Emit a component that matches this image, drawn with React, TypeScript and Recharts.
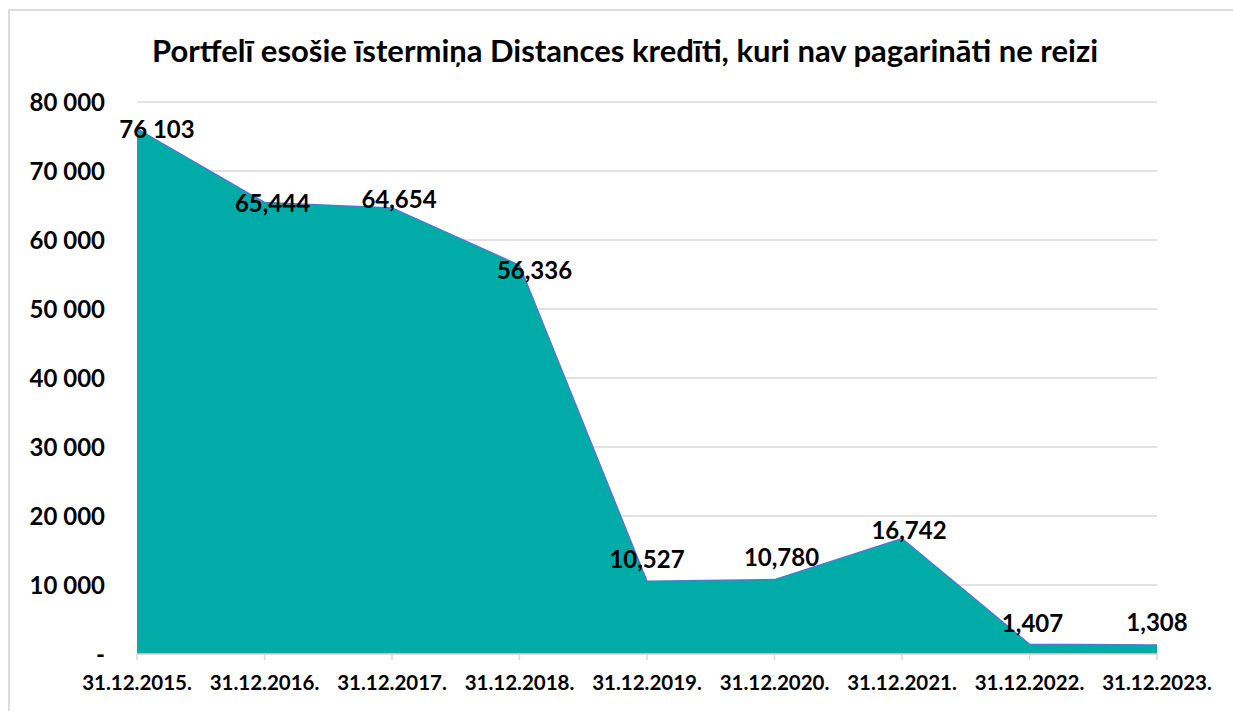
import React from "react";
import {
  AreaChart,
  Area,
  XAxis,
  YAxis,
  CartesianGrid,
  LabelList,
} from "recharts";

const TITLE =
  "Portfelī esošie īstermiņa Distances kredīti, kuri nav pagarināti ne reizi";

const DATES = [
  "31.12.2015.",
  "31.12.2016.",
  "31.12.2017.",
  "31.12.2018.",
  "31.12.2019.",
  "31.12.2020.",
  "31.12.2021.",
  "31.12.2022.",
  "31.12.2023.",
];

const LOANS = [76103, 65444, 64654, 56336, 10527, 10780, 16742, 1407, 1308];

// labels as printed in the source (first one uses a space separator)
const LOAN_LABELS = [
  "76 103",
  "65,444",
  "64,654",
  "56,336",
  "10,527",
  "10,780",
  "16,742",
  "1,407",
  "1,308",
];

const Y_TICKS = [0, 10000, 20000, 30000, 40000, 50000, 60000, 70000, 80000];

// label nudges relative to each point (dx, dy), px
const LABEL_NUDGE: [number, number][] = [
  [20, 0],
  [8, 0],
  [7, -9],
  [15, 4],
  [0, -23],
  [7, -23],
  [7, -9],
  [3, -22],
  [0, -23],
];

const FONT = "Lato, 'Open Sans', sans-serif";

const data = DATES.map((d, i) => ({ date: d, value: LOANS[i], label: LOAN_LABELS[i] }));

const fmtY = (v: number) =>
  v === 0 ? "-" : v.toLocaleString("en-US").replace(/,/g, " ");

function PointLabel(props: any) {
  const { x, y, index } = props;
  const [dx, dy] = LABEL_NUDGE[index] ?? [0, -20];
  return (
    <text
      x={x + dx}
      y={y + dy}
      textAnchor="middle"
      dominantBaseline="central"
      fontFamily={FONT}
      fontWeight={700}
      fontSize={24}
      fill="#000"
    >
      {LOAN_LABELS[index]}
    </text>
  );
}

export default function App() {
  return (
    <div
      style={{
        position: "absolute",
        left: 0,
        top: 0,
        width: 1233,
        height: 711,
        overflow: "hidden",
        background: "#fff",
      }}
    >
      <div
        style={{
          position: "absolute",
          left: 8,
          top: 9,
          width: 1300,
          height: 800,
          border: "2px solid #dcdcdc",
        }}
      />
      <div
        style={{
          position: "absolute",
          left: 0,
          top: 31,
          width: 1250,
          textAlign: "center",
          fontFamily: FONT,
          fontWeight: 700,
          fontSize: 31,
          lineHeight: "38px",
          color: "#000",
        }}
      >
        {TITLE}
      </div>
      <div style={{ position: "absolute", left: 0, top: 0 }}>
        <AreaChart
          width={1233}
          height={711}
          data={data}
          margin={{ top: 102, right: 76, bottom: 7, left: 37 }}
        >
          <CartesianGrid vertical={false} stroke="#d9d9d9" strokeWidth={1.5} />
          <XAxis
            dataKey="date"
            height={50}
            interval={0}
            stroke="#d9d9d9"
            strokeWidth={1.5}
            tickSize={6}
            tickMargin={15}
            tick={{ fill: "#000", fontFamily: FONT, fontWeight: 700, fontSize: 20.5 }}
          />
          <YAxis
            width={100}
            domain={[0, 80000]}
            ticks={Y_TICKS}
            tickFormatter={fmtY}
            axisLine={false}
            tickLine={false}
            tickSize={0}
            tickMargin={32}
            tick={{ fill: "#000", fontFamily: FONT, fontWeight: 700, fontSize: 24 }}
          />
          <Area
            type="linear"
            dataKey="value"
            stroke="#6670c2"
            strokeWidth={1.5}
            fill="#00aba8"
            fillOpacity={1}
            isAnimationActive={false}
          >
            <LabelList dataKey="value" content={<PointLabel />} />
          </Area>
        </AreaChart>
      </div>
    </div>
  );
}
